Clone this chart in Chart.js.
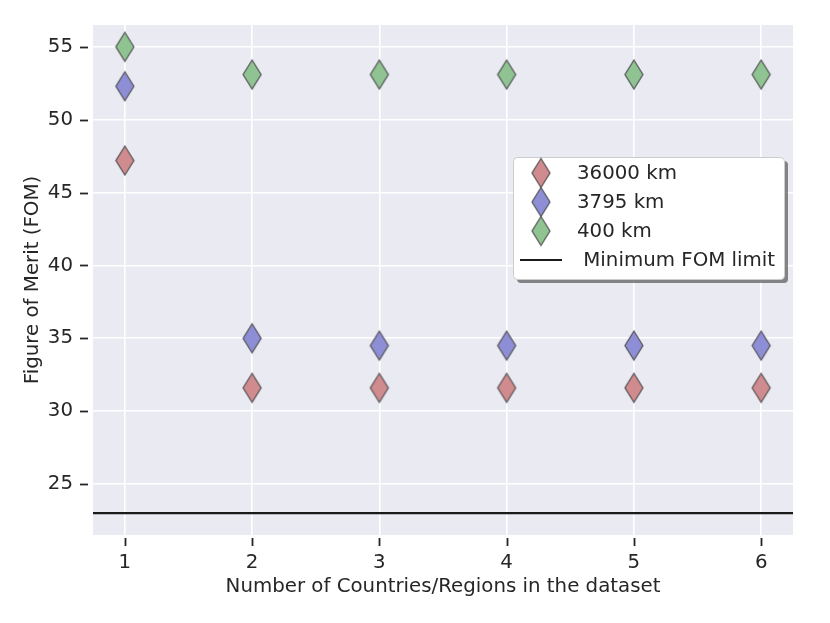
<!DOCTYPE html>
<html>
<head>
<meta charset="utf-8">
<script src="https://cdn.jsdelivr.net/npm/chart.js@4"></script>
<style>
	html, body { margin: 0; padding: 0; background: #ffffff; }
	#chart_box { width: 830px; height: 623px; }
</style>
</head>
<body>
<div id="chart_box"><canvas id="fom_chart" width="830" height="623"></canvas></div>
<script>
"use strict";

const countryCounts = [1, 2, 3, 4, 5, 6];
const fom36000 = [47.2, 31.6, 31.6, 31.6, 31.6, 31.6];
const fom3795 = [52.3, 35.0, 34.5, 34.5, 34.5, 34.5];
const fom400 = [55.0, 53.1, 53.1, 53.1, 53.1, 53.1];
const minFomLimit = 23;
const yTickValues = [25, 30, 35, 40, 45, 50, 55];
const xRange = [0.75, 6.25];
const yRange = [21.5, 56.5];
const seriesLabels = ["36000 km", "3795 km", "400 km", " Minimum FOM limit"];

const textColor = "#262626";
const fontFamily = "'DejaVu Sans', sans-serif";
const fontSize = 19.8;

function makeDiamond(fill) {
	const cv = document.createElement("canvas");
	cv.width = 22;
	cv.height = 33;
	const c = cv.getContext("2d");
	c.beginPath();
	c.moveTo(11, 2);
	c.lineTo(20, 16.5);
	c.lineTo(11, 31);
	c.lineTo(2, 16.5);
	c.closePath();
	c.fillStyle = fill;
	c.fill();
	c.lineWidth = 1.4;
	c.strokeStyle = "rgba(70,70,70,0.8)";
	c.stroke();
	return cv;
}

const diamonds = [
	makeDiamond("#d08b8f"),
	makeDiamond("#8e8ed6"),
	makeDiamond("#8fc391"),
];

function toPoints(vals) {
	return vals.map((v, i) => ({ x: countryCounts[i], y: v }));
}

function roundRect(ctx, x, y, w, h, r) {
	ctx.beginPath();
	ctx.moveTo(x + r, y);
	ctx.lineTo(x + w - r, y);
	ctx.quadraticCurveTo(x + w, y, x + w, y + r);
	ctx.lineTo(x + w, y + h - r);
	ctx.quadraticCurveTo(x + w, y + h, x + w - r, y + h);
	ctx.lineTo(x + r, y + h);
	ctx.quadraticCurveTo(x, y + h, x, y + h - r);
	ctx.lineTo(x, y + r);
	ctx.quadraticCurveTo(x, y, x + r, y);
	ctx.closePath();
}

const bgPlugin = {
	id: "bgPlugin",
	beforeDraw(chart) {
		const { ctx, chartArea: a } = chart;
		ctx.save();
		ctx.fillStyle = "#eaeaf2";
		ctx.fillRect(a.left, a.top, a.right - a.left, a.bottom - a.top);
		ctx.restore();
	},
	afterDraw(chart) {
		const { ctx, chartArea: a, scales } = chart;
		ctx.save();
		ctx.strokeStyle = textColor;
		ctx.lineWidth = 1.8;
		countryCounts.forEach((v) => {
			const px = Math.round(scales.x.getPixelForValue(v)) + 0.5;
			ctx.beginPath();
			ctx.moveTo(px, a.bottom + 3);
			ctx.lineTo(px, a.bottom + 11);
			ctx.stroke();
		});
		yTickValues.forEach((v) => {
			const py = Math.round(scales.y.getPixelForValue(v)) + 0.5;
			ctx.beginPath();
			ctx.moveTo(a.left - 13, py);
			ctx.lineTo(a.left - 5, py);
			ctx.stroke();
		});

		// legend box, drawn inside the plot like matplotlib's
		const lx = 513, ly = 157, lw = 271, lh = 122;
		ctx.fillStyle = "rgba(105,105,105,0.8)";
		roundRect(ctx, lx + 4, ly + 4, lw, lh, 4);
		ctx.fill();
		ctx.fillStyle = "#ffffff";
		ctx.strokeStyle = "#cccccc";
		ctx.lineWidth = 1;
		roundRect(ctx, lx + 0.5, ly + 0.5, lw, lh, 4);
		ctx.fill();
		ctx.stroke();

		ctx.font = fontSize + "px " + fontFamily;
		ctx.fillStyle = textColor;
		ctx.textBaseline = "middle";
		const rowY = [173, 202, 231, 260];
		for (let i = 0; i < 3; i++) {
			ctx.drawImage(diamonds[i], 541 - 11, rowY[i] - 16.5);
			ctx.fillText(seriesLabels[i], 577, rowY[i] + 1);
		}
		ctx.strokeStyle = "#1a1a1a";
		ctx.lineWidth = 2;
		ctx.beginPath();
		ctx.moveTo(520, rowY[3]);
		ctx.lineTo(562, rowY[3]);
		ctx.stroke();
		ctx.fillText(seriesLabels[3], 577, rowY[3] + 1);
		ctx.restore();
	},
};

function diamondSet(label, vals, img) {
	return {
		type: "scatter",
		label: label,
		data: toPoints(vals),
		pointStyle: img,
		pointRadius: 11,
		pointHoverRadius: 11,
	};
}

const ctx = document.getElementById("fom_chart");
new Chart(ctx, {
	type: "scatter",
	data: {
		datasets: [
			{
				type: "line",
				label: seriesLabels[3],
				data: [
					{ x: xRange[0], y: minFomLimit },
					{ x: xRange[1], y: minFomLimit },
				],
				borderColor: "#1a1a1a",
				borderWidth: 2.2,
				pointRadius: 0,
				fill: false,
			},
			diamondSet(seriesLabels[0], fom36000, diamonds[0]),
			diamondSet(seriesLabels[1], fom3795, diamonds[1]),
			diamondSet(seriesLabels[2], fom400, diamonds[2]),
		],
	},
	options: {
		responsive: false,
		animation: false,
		layout: { padding: { top: 25, right: 37, left: 0, bottom: 0 } },
		plugins: {
			legend: { display: false },
			tooltip: { enabled: false },
		},
		scales: {
			x: {
				type: "linear",
				min: xRange[0],
				max: xRange[1],
				afterBuildTicks: (s) => {
					s.ticks = countryCounts.map((v) => ({ value: v }));
				},
				afterFit: (s) => {
					s.height = 88;
					s.paddingLeft = 0;
					s.paddingRight = 0;
				},
				grid: { color: "#ffffff", lineWidth: 1.6, drawTicks: false },
				border: { display: false },
				ticks: {
					padding: 16,
					color: textColor,
					font: { family: fontFamily, size: fontSize },
				},
				title: {
					display: true,
					text: "Number of Countries/Regions in the dataset",
					color: textColor,
					font: { family: fontFamily, size: fontSize },
					padding: { top: 0, bottom: 24 },
				},
			},
			y: {
				type: "linear",
				min: yRange[0],
				max: yRange[1],
				afterBuildTicks: (s) => {
					s.ticks = yTickValues.map((v) => ({ value: v }));
				},
				afterFit: (s) => {
					s.width = 93;
					s.paddingTop = 0;
					s.paddingBottom = 0;
				},
				grid: { color: "#ffffff", lineWidth: 1.6, drawTicks: false },
				border: { display: false },
				ticks: {
					padding: 20,
					color: textColor,
					font: { family: fontFamily, size: fontSize },
				},
				title: {
					display: true,
					text: "Figure of Merit (FOM)",
					color: textColor,
					font: { family: fontFamily, size: fontSize },
					padding: { top: 21, bottom: 0 },
				},
			},
		},
	},
	plugins: [bgPlugin],
});
</script>
</body>
</html>
